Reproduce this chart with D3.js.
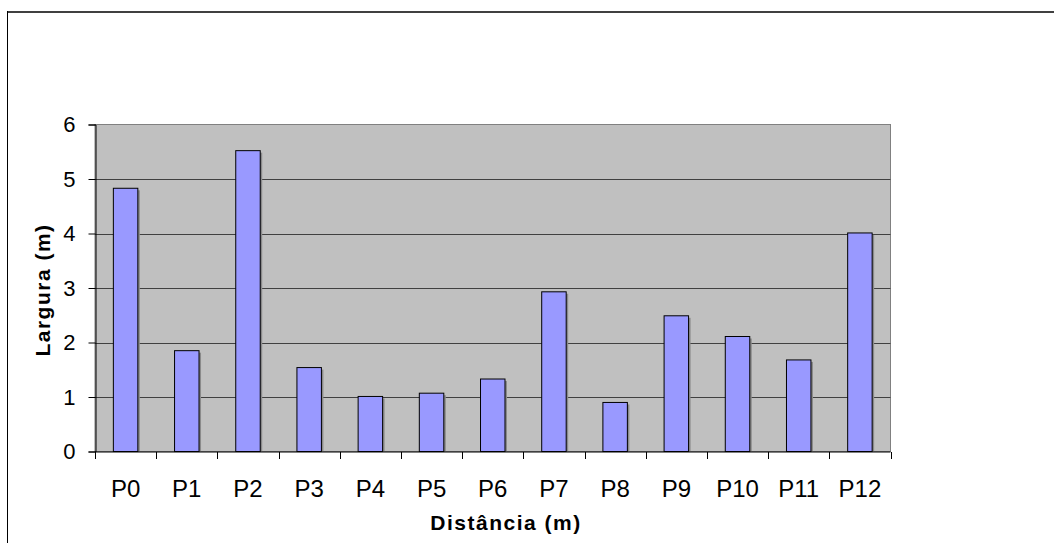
<!DOCTYPE html>
<html>
<head>
<meta charset="utf-8">
<script src="https://cdn.jsdelivr.net/npm/d3@7"></script>
<style>
  body { margin: 0; background: #fff; }
  text { font-family: "Liberation Sans", Arial, sans-serif; fill: #000; }
</style>
</head>
<body>
<div id="chart"></div>
<script>
// chart data
var categories = ["P0", "P1", "P2", "P3", "P4", "P5", "P6", "P7", "P8", "P9", "P10", "P11", "P12"];
var larguras = [4.83, 1.85, 5.52, 1.54, 1.01, 1.07, 1.33, 2.93, 0.9, 2.49, 2.11, 1.68, 4.01];
var yTicks = [0, 1, 2, 3, 4, 5, 6];

var width = 1054, height = 543;
var plot = { left: 95, right: 890.5, top: 124.5, bottom: 451.5 };

var svg = d3.select("#chart").append("svg")
  .attr("width", width)
  .attr("height", height);

// outer chart frame (cut by the window on the right and bottom)
svg.append("line")
  .attr("x1", 7).attr("x2", width).attr("y1", 12).attr("y2", 12)
  .attr("stroke", "#404040").attr("stroke-width", 2);
svg.append("line")
  .attr("x1", 7.5).attr("x2", 7.5).attr("y1", 11).attr("y2", height)
  .attr("stroke", "#000").attr("stroke-width", 1);

var x = d3.scaleBand()
  .domain(categories)
  .range([plot.left, plot.right])
  .paddingInner(0.6)
  .paddingOuter(0.3);

var xEdge = d3.scaleBand()
  .domain(categories)
  .range([plot.left, plot.right]);

var y = d3.scaleLinear()
  .domain([0, 6])
  .range([plot.bottom, plot.top]);

// plot background
svg.append("rect")
  .attr("x", plot.left).attr("y", plot.top)
  .attr("width", plot.right - plot.left)
  .attr("height", plot.bottom - plot.top)
  .attr("fill", "#c0c0c0")
  .attr("stroke", "#808080")
  .attr("stroke-width", 1);

// gridlines
svg.append("g")
  .selectAll("line")
  .data(yTicks.filter(function (d) { return d > 0 && d < 6; }))
  .enter().append("line")
  .attr("x1", plot.left).attr("x2", plot.right)
  .attr("y1", function (d) { return Math.round(y(d)) + 0.5; })
  .attr("y2", function (d) { return Math.round(y(d)) + 0.5; })
  .attr("stroke", "#404040")
  .attr("stroke-width", 1);

// bar shadows
svg.append("g")
  .selectAll("rect")
  .data(larguras)
  .enter().append("rect")
  .attr("x", function (d, i) { return x(categories[i]) + 2; })
  .attr("y", function (d) { return y(d) + 2; })
  .attr("width", x.bandwidth())
  .attr("height", function (d) { return plot.bottom - y(d) - 2; })
  .attr("fill", "#8a8a8a");

// bars
svg.append("g")
  .selectAll("rect")
  .data(larguras)
  .enter().append("rect")
  .attr("x", function (d, i) { return x(categories[i]); })
  .attr("y", function (d) { return y(d); })
  .attr("width", x.bandwidth())
  .attr("height", function (d) { return plot.bottom - y(d); })
  .attr("fill", "#9999ff")
  .attr("stroke", "#000")
  .attr("stroke-width", 1);

// y axis
var yAxis = svg.append("g")
  .attr("transform", "translate(" + (plot.left + 0.5) + ",0)")
  .call(d3.axisLeft(y).tickValues(yTicks).tickSize(7).tickPadding(13).tickFormat(d3.format("d")));
yAxis.select(".domain").attr("stroke", "#000");
yAxis.selectAll(".tick line").attr("stroke", "#000");
yAxis.selectAll("text")
  .style("font-size", "22px")
  .attr("font-family", "Liberation Sans, Arial, sans-serif");

// x axis with ticks at category edges
var xAxis = svg.append("g")
  .attr("transform", "translate(0," + (plot.bottom + 0.5) + ")");
xAxis.append("line")
  .attr("x1", plot.left).attr("x2", plot.right)
  .attr("stroke", "#000");
xAxis.selectAll("line.edge")
  .data(categories.concat(["end"]))
  .enter().append("line")
  .attr("class", "edge")
  .attr("x1", function (d, i) { return Math.round(plot.left + i * xEdge.step()) + 0.5; })
  .attr("x2", function (d, i) { return Math.round(plot.left + i * xEdge.step()) + 0.5; })
  .attr("y1", 0).attr("y2", 7)
  .attr("stroke", "#000");
xAxis.selectAll("text")
  .data(categories)
  .enter().append("text")
  .attr("x", function (d) { return x(d) + x.bandwidth() / 2; })
  .attr("y", 44.5)
  .attr("text-anchor", "middle")
  .style("font-size", "24px")
  .text(function (d) { return d; });

// axis titles
svg.append("text")
  .attr("x", 506)
  .attr("y", 530)
  .attr("text-anchor", "middle")
  .style("font-size", "21px")
  .style("font-weight", "bold")
  .style("letter-spacing", "1.5px")
  .text("Distância (m)");

svg.append("text")
  .attr("transform", "translate(50,290) rotate(-90)")
  .attr("text-anchor", "middle")
  .style("font-size", "21px")
  .style("font-weight", "bold")
  .style("letter-spacing", "1.5px")
  .text("Largura (m)");
</script>
</body>
</html>
